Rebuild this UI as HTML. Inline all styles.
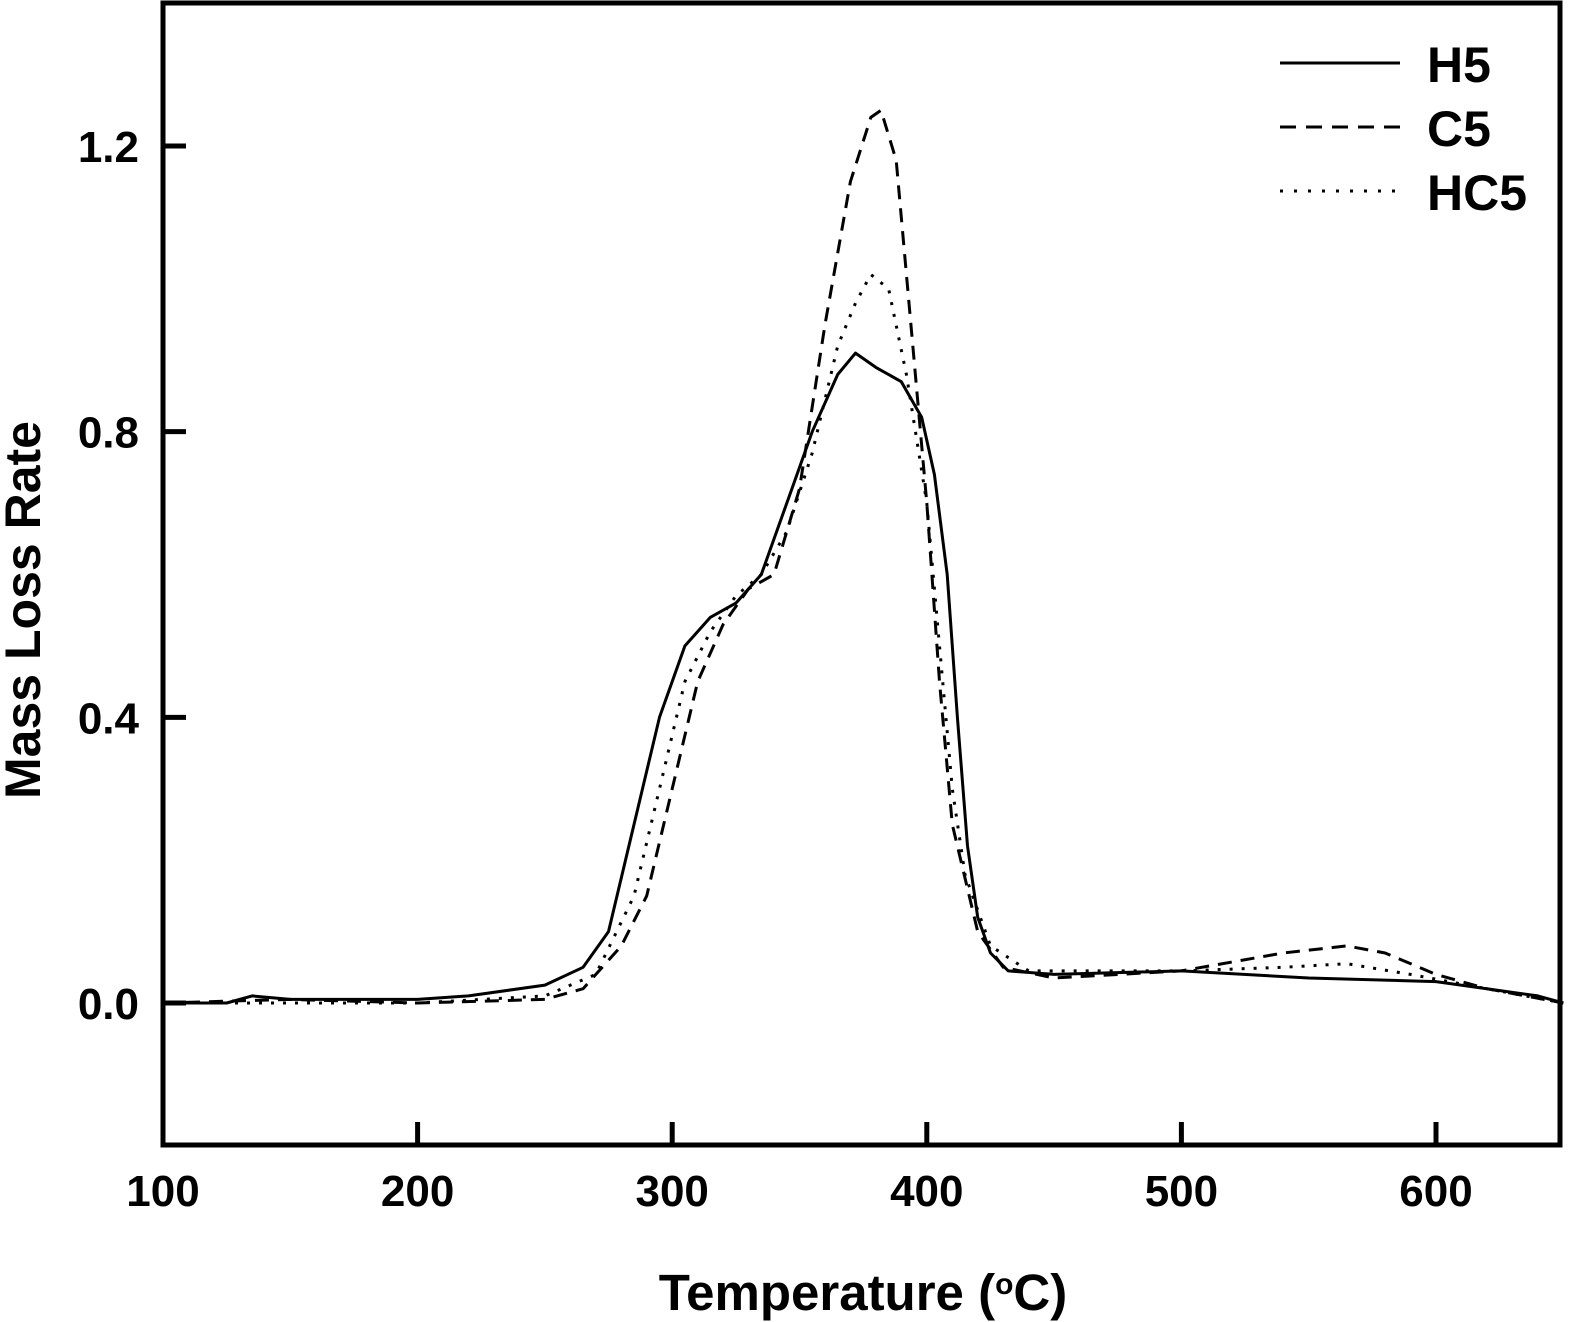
<!DOCTYPE html>
<html><head><meta charset="utf-8"><style>body{margin:0;background:#fff}svg{display:block}text{font-family:"Liberation Sans",Arial,sans-serif;font-weight:bold;fill:#000}</style></head>
<body>
<svg id="chart" width="1575" height="1322" viewBox="0 0 1575 1322">
<rect x="163" y="3" width="1397" height="1142" fill="none" stroke="#000" stroke-width="5"/>
<g id="ticks"></g>
<g id="series"></g>
<text transform="translate(40,610) rotate(-90)" text-anchor="middle" font-size="50">Mass Loss Rate</text>
<text x="863" y="1310" text-anchor="middle" font-size="51">Temperature (<tspan baseline-shift="super" font-size="30">o</tspan>C)</text>
<g>
<line x1="1280" y1="63" x2="1400" y2="63" stroke="#000" stroke-width="3"/>
<text x="1427" y="82" font-size="50">H5</text>
<line x1="1280" y1="127" x2="1400" y2="127" stroke="#000" stroke-width="3" stroke-dasharray="16,10"/>
<text x="1427" y="146" font-size="50">C5</text>
<line x1="1280" y1="191" x2="1400" y2="191" stroke="#000" stroke-width="3" stroke-dasharray="3,11"/>
<text x="1427" y="210" font-size="50">HC5</text>
</g>
</svg>
<script>
const xTicks=[100,200,300,400,500,600];
const yTicks=[0.0,0.4,0.8,1.2];
const yTickLabels=["0.0","0.4","0.8","1.2"];
const h5T=[100,125,135,150,200,220,250,265,275,285,295,305,315,325,335,345,355,365,372,380,390,398,403,408,412,416,420,425,432,450,500,550,600,640,650];
const h5V=[0,0,0.01,0.005,0.005,0.01,0.025,0.05,0.1,0.25,0.4,0.5,0.54,0.56,0.6,0.7,0.8,0.88,0.91,0.89,0.87,0.82,0.74,0.6,0.4,0.22,0.12,0.07,0.045,0.04,0.045,0.035,0.03,0.01,0];
const c5T=[100,150,200,250,265,280,290,300,310,320,330,340,350,360,370,378,382,388,395,400,405,410,420,430,450,500,540,565,580,600,620,650];
const c5V=[0,0.005,0,0.005,0.02,0.08,0.15,0.3,0.45,0.53,0.58,0.6,0.72,0.95,1.15,1.24,1.25,1.18,0.9,0.7,0.45,0.25,0.1,0.05,0.035,0.045,0.07,0.08,0.07,0.04,0.02,0];
const hc5T=[100,200,250,270,285,295,305,315,325,335,345,355,365,372,378,385,392,400,405,410,415,425,440,500,540,565,590,620,650];
const hc5V=[0,0,0.01,0.04,0.15,0.3,0.45,0.52,0.57,0.6,0.66,0.77,0.92,0.98,1.02,1.0,0.88,0.7,0.5,0.3,0.18,0.08,0.045,0.045,0.05,0.055,0.04,0.02,0];
const X=t=>163+(t-100)*1273/500;
const Y=v=>1003-v*857/1.2;
const NS='http://www.w3.org/2000/svg';
const tg=document.getElementById('ticks');
xTicks.forEach(t=>{
 if(t>100){const l=document.createElementNS(NS,'line');
 
 
 l.setAttribute('x1',X(t));l.setAttribute('x2',X(t));l.setAttribute('y1',1145);l.setAttribute('y2',1122);l.setAttribute('stroke','#000');l.setAttribute('stroke-width',5);tg.appendChild(l);}
 const s=document.createElementNS(NS,'text');
 
 
 s.setAttribute('x',X(t));s.setAttribute('y',1206);s.setAttribute('text-anchor','middle');s.setAttribute('font-size','44');s.textContent=t;tg.appendChild(s);
});
yTicks.forEach((v,i)=>{
 const l=document.createElementNS(NS,'line');
 
 
 l.setAttribute('x1',163);l.setAttribute('x2',186);l.setAttribute('y1',Y(v));l.setAttribute('y2',Y(v));l.setAttribute('stroke','#000');l.setAttribute('stroke-width',5);tg.appendChild(l);
 const s=document.createElementNS(NS,'text');
 
 
 s.setAttribute('x',139);s.setAttribute('y',Y(v)+16);s.setAttribute('text-anchor','end');s.setAttribute('font-size','44');s.textContent=yTickLabels[i];tg.appendChild(s);
});
const sg=document.getElementById('series');
function draw(T,V,name,dash){
 const p=document.createElementNS(NS,'path');
 
 
 p.setAttribute('d',T.map((t,i)=>(i?'L':'M')+X(t).toFixed(1)+','+Y(V[i]).toFixed(1)).join(''));
 p.setAttribute('fill','none');p.setAttribute('stroke','#000');p.setAttribute('stroke-width',3);p.setAttribute('stroke-linejoin','round');
 if(dash)p.setAttribute('stroke-dasharray',dash);
 sg.appendChild(p);
}
draw(h5T,h5V,'h5-line',null);
draw(c5T,c5V,'c5-line','14,9');
draw(hc5T,hc5V,'hc5-line','3,9');
</script>
</body></html>
